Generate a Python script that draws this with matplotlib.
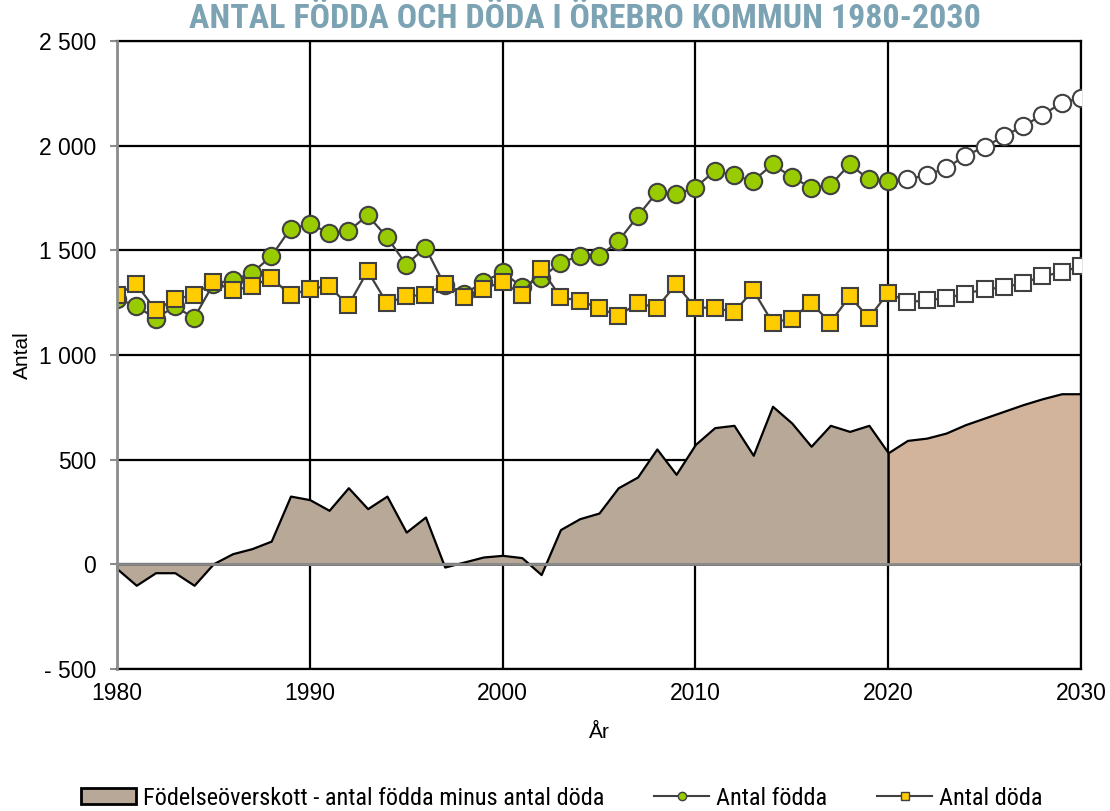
import matplotlib
matplotlib.use("Agg")
import matplotlib.pyplot as plt
from matplotlib.lines import Line2D
from matplotlib.patches import Patch
from matplotlib import font_manager

# ---------------- data ----------------
years_hist = list(range(1980, 2021))
years_fc = list(range(2020, 2031))

births_hist = [1269, 1234, 1174, 1232, 1177, 1340, 1357, 1392, 1471, 1604,
               1624, 1585, 1592, 1667, 1564, 1432, 1513, 1333, 1290, 1349,
               1396, 1325, 1368, 1441, 1473, 1471, 1543, 1662, 1777, 1767,
               1800, 1879, 1858, 1831, 1911, 1850, 1800, 1811, 1911, 1839,
               1831]
deaths_hist = [1288, 1339, 1215, 1266, 1288, 1349, 1309, 1328, 1370, 1285,
               1317, 1329, 1237, 1401, 1248, 1280, 1288, 1338, 1277, 1317,
               1349, 1288, 1412, 1277, 1258, 1226, 1186, 1248, 1226, 1338,
               1226, 1226, 1205, 1309, 1155, 1174, 1248, 1155, 1280, 1177,
               1298]
surplus_hist = [-21, -100, -40, -40, -100, 3, 51, 75, 111, 326,
                309, 258, 366, 266, 326, 154, 226, -13, 11, 35,
                43, 32, -49, 166, 218, 245, 366, 417, 551, 430,
                573, 653, 664, 521, 755, 675, 564, 664, 635, 664,
                533]

births_fc = [1831, 1839, 1860, 1892, 1952, 1994, 2045, 2094, 2146, 2205, 2229]
deaths_fc = [1298, 1253, 1261, 1272, 1293, 1314, 1323, 1344, 1376, 1396, 1425]
surplus_fc = [533, 592, 603, 627, 667, 699, 731, 763, 791, 815, 815]

yticks = [-500, 0, 500, 1000, 1500, 2000, 2500]
yticklabels = ["- 500", "0", "500", "1 000", "1 500", "2 000", "2 500"]
xticks = [1980, 1990, 2000, 2010, 2020, 2030]

title = "ANTAL FÖDDA OCH DÖDA I ÖREBRO KOMMUN 1980-2030"
label_surplus = "Födelseöverskott - antal födda minus antal döda"
label_births = "Antal födda"
label_deaths = "Antal döda"

# ---------------- style ----------------
names = {f.name for f in font_manager.fontManager.ttflist}
base = "Liberation Sans" if "Liberation Sans" in names else "DejaVu Sans"
narrow_candidates = ["Liberation Sans Narrow", "Roboto Condensed", "Open Sans Condensed"]
narrow = next((n for n in narrow_candidates if n in names), None)
plt.rcParams['font.family'] = [base, 'DejaVu Sans']

c_hist = "#B8A898"
c_fc = "#D2B49C"
c_green = "#99CC00"
c_yellow = "#FFCC00"
c_edge = "#404040"
c_title = "#7BA3B3"
c_axis = "#8C8C8C"

fig = plt.figure(figsize=(11.10, 8.11), dpi=100)
ax = fig.add_axes([117/1110, 1-669/811, (1081-117)/1110, (669-41)/811])

ax.set_xlim(1980, 2030)
ax.set_ylim(-500, 2500)

# grid
ax.set_axisbelow(True)
ax.grid(True, color="black", linewidth=1.6)

# areas
ax.fill_between(years_hist, surplus_hist, 0, facecolor=c_hist, edgecolor="black",
                linewidth=1.6, zorder=2)
ax.fill_between(years_fc, surplus_fc, 0, facecolor=c_fc, edgecolor="black",
                linewidth=1.6, zorder=2)
ax.axhline(0, color=c_axis, linewidth=2, zorder=3)

# lines
mk = dict(markeredgecolor=c_edge, markeredgewidth=1.5)
ax.plot(years_fc, births_fc, color=c_edge, lw=1.6, marker="o", markersize=12.5,
        markerfacecolor="white", markevery=list(range(1, len(years_fc))), zorder=4, **mk)
ax.plot(years_fc, deaths_fc, color=c_edge, lw=1.6, marker="s", markersize=11.5,
        markerfacecolor="white", markevery=list(range(1, len(years_fc))), zorder=4, **mk)
ax.plot(years_hist, births_hist, color=c_edge, lw=1.6, marker="o", markersize=12.5,
        markerfacecolor=c_green, zorder=5, **mk)
ax.plot(years_hist, deaths_hist, color=c_edge, lw=1.6, marker="s", markersize=11.5,
        markerfacecolor=c_yellow, zorder=6, **mk)

# axes
for s in ["top", "right", "bottom"]:
    ax.spines[s].set_color("black")
    ax.spines[s].set_linewidth(1.6)
ax.spines["left"].set_color(c_axis)
ax.spines["left"].set_linewidth(2)
ax.spines["left"].set_zorder(7)

ax.set_yticks(yticks)
ax.set_yticklabels(yticklabels)
ax.tick_params(axis="y", length=5, width=1.5, color=c_axis, pad=10, labelsize=16.5)
ax.set_xticks(xticks)
ax.tick_params(axis="x", length=0, pad=9, labelsize=16.5)

# tick marks on zero axis
sec = ax.secondary_xaxis(1/6)
sec.set_xticks(xticks)
sec.tick_params(axis="x", direction="out", length=5, width=1.5, color=c_axis,
                labelbottom=False, labeltop=False)
sec.spines["bottom"].set_visible(False)
sec.spines["top"].set_visible(False)

ax.set_ylabel("Antal", fontsize=15, labelpad=5)
ax.set_xlabel("År", fontsize=15, labelpad=13)

tfam = [narrow, "DejaVu Sans"] if narrow else ["DejaVu Sans"]
ttl = fig.text(0.5266, 0.977, title, ha="center", va="center", fontsize=23,
               fontweight="bold", color=c_title, family=tfam, fontstretch="condensed")

handles = [
    Patch(facecolor=c_hist, edgecolor="black", linewidth=2),
    Line2D([], [], color=c_edge, lw=1.5, marker="o", markersize=6,
           markerfacecolor=c_green, markeredgecolor=c_edge),
    Line2D([], [], color=c_edge, lw=1.5, marker="s", markersize=6,
           markerfacecolor=c_yellow, markeredgecolor=c_edge),
]

def make_legend(size):
    px = size * 100 / 72
    return fig.legend(handles, [label_surplus, label_births, label_deaths], loc="center",
                      bbox_to_anchor=(0.506, 0.016), ncol=3, frameon=False,
                      prop={"family": tfam, "size": size, "stretch": "condensed"},
                      handlelength=55 / px, handletextpad=7 / px,
                      columnspacing=50 / px, borderpad=0.0, handleheight=0.6)

leg = make_legend(15)

# fit title and legend text widths to the reference layout
fig.canvas.draw()
r = fig.canvas.get_renderer()
w = ttl.get_window_extent(r).width
ttl.set_fontsize(23 * 793 / w)
tw = leg.get_texts()[0].get_window_extent(r).width
leg.remove()
leg = make_legend(15 * 463 / tw)

fig.savefig("out.png", dpi=100)
